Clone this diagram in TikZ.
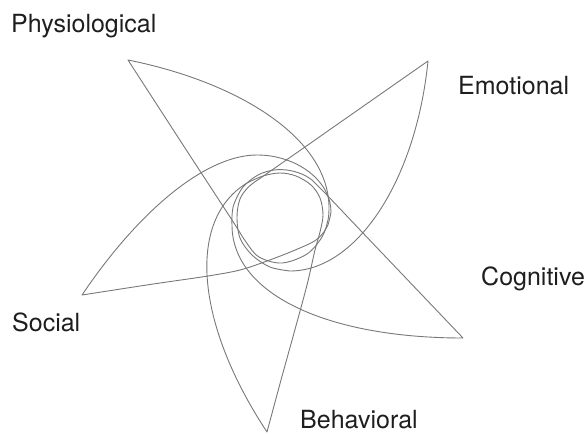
\documentclass[tikz,border=0pt]{standalone}
\usepackage{fontspec}
\setmainfont{TeX Gyre Heros}
\definecolor{linegray}{RGB}{120,120,120}
\definecolor{labelgray}{RGB}{30,30,30}
\tikzset{
  petal/.style={draw=linegray, line width=0.9pt, line join=round, line cap=round},
  lbl/.style={anchor=base west, inner sep=0pt, font=\fontsize{25}{30}\selectfont, text=labelgray}
}
\begin{document}
\begin{tikzpicture}[x=1pt,y=-1pt]
\useasboundingbox (0,0) rectangle (588,435);
% Physiological petal
\draw[petal] plot[smooth, tension=0.55] coordinates {(128,60) (185,148) (232,220) (246,242) (259,257) (282,263) (307,254) (322,237) (328,220) (329,208)}
  .. controls (329,137.8) and (238,82) .. (128,60);
% Emotional petal
\draw[petal] plot[smooth, tension=0.55] coordinates {(428,61) (345,119) (307,145.6) (262,177) (249,186.5) (240,199) (237,217) (240,238) (252,255) (270,267) (290,271)}
  .. controls (357,271) and (416,180) .. (428,61);
% Cognitive petal
\draw[petal] plot[smooth, tension=0.55] coordinates {(463,338) (410,282.4) (364,234.1) (319,186.9) (306,176) (290,170.5) (274,170) (258,175) (243,187) (234,204) (232,216) (232,225)}
  .. controls (232,293) and (325,338) .. (463,338);
% Behavioral petal
\draw[petal] plot[smooth, tension=0.55] coordinates {(267,432) (281,380) (294,333) (307,285) (315,250) (320,232) (323,215) (320,198) (311,185) (296,176) (280,173) (263,176) (247,183)}
  .. controls (186.7,219.6) and (195,323) .. (267,432);
% Social petal
\draw[petal] plot[smooth, tension=0.55] coordinates {(82,295) (150,284.5) (208,276) (240,270) (267,261) (294,250.5) (316,240) (327,227) (331,212)}
  .. controls (331,181) and (297,155) .. (257,155)
  .. controls (207,155) and (140.6,208.2) .. (82,295);
% labels
\node[lbl] (phys) at (11,33) {Physiological};
\node[lbl] (emo) at (458,95) {Emotional};
\node[lbl] (cog) at (481,285) {Cognitive};
\node[lbl] (soc) at (12,331) {Social};
\node[lbl] (beh) at (300,428) {Behavioral};
\end{tikzpicture}
\end{document}
